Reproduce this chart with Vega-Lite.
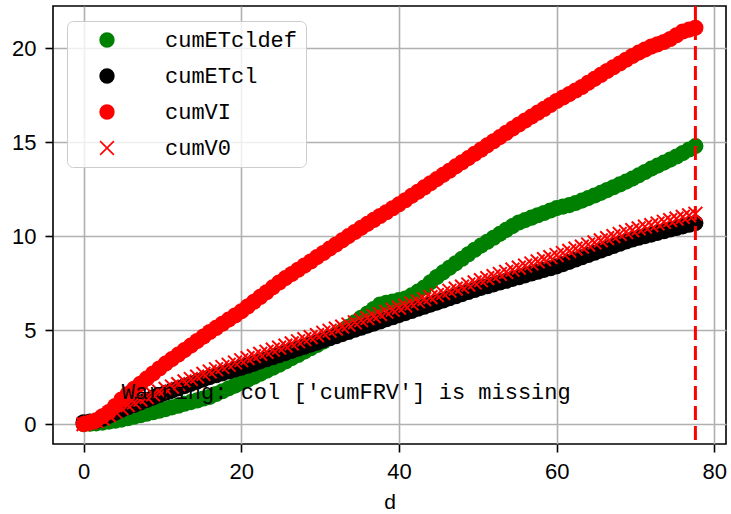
{
 "$schema": "https://vega.github.io/schema/vega-lite/v6.json",
 "width": 673, "height": 438,
 "autosize": {"type": "none"},
 "padding": {"left": 53, "top": 6, "right": 5, "bottom": 70},
 "background": "white",
 "config": {
  "view": {"stroke": "black", "strokeWidth": 1.6},
  "axis": {"domain": false, "grid": true, "gridColor": "#b0b0b0", "gridWidth": 1.6, "tickColor": "black", "tickWidth": 1.6, "tickSize": 8, "labelFont": "Liberation Sans", "labelFontSize": 22, "labelColor": "black", "labelPadding": 9, "titleFont": "Liberation Sans", "titleFontSize": 21, "titleColor": "black", "titleFontWeight": "normal", "titlePadding": 9},
  "legend": {"orient": "none", "legendX": 14, "legendY": 15, "fillColor": "rgba(255,255,255,0.8)", "strokeColor": "#cccccc", "strokeWidth": 1, "cornerRadius": 6, "padding": 8, "symbolOffset": 21, "labelOffset": 47, "rowPadding": 14, "labelFont": "Liberation Mono", "labelFontSize": 22, "labelColor": "black", "symbolSize": 190, "symbolStrokeWidth": 1.6}
 },
 "datasets": {
  "series": [
   {"d":0,"cumETcldef":0,"cumETcl":0.10,"cumVI":0,"cumV0":0},
   {"d":0.8,"cumETcldef":0.02,"cumETcl":0.14,"cumVI":0.10,"cumV0":0.08},
   {"d":1.6,"cumETcldef":0.04,"cumETcl":0.18,"cumVI":0.20,"cumV0":0.16},
   {"d":2.4,"cumETcldef":0.08,"cumETcl":0.28,"cumVI":0.42,"cumV0":0.29},
   {"d":3.2,"cumETcldef":0.13,"cumETcl":0.44,"cumVI":0.64,"cumV0":0.48},
   {"d":4.0,"cumETcldef":0.18,"cumETcl":0.60,"cumVI":0.96,"cumV0":0.67},
   {"d":4.8,"cumETcldef":0.24,"cumETcl":0.76,"cumVI":1.31,"cumV0":0.85},
   {"d":5.6,"cumETcldef":0.31,"cumETcl":0.90,"cumVI":1.60,"cumV0":1.01},
   {"d":6.4,"cumETcldef":0.39,"cumETcl":1.02,"cumVI":1.88,"cumV0":1.15},
   {"d":7.2,"cumETcldef":0.47,"cumETcl":1.15,"cumVI":2.15,"cumV0":1.30},
   {"d":8.0,"cumETcldef":0.55,"cumETcl":1.28,"cumVI":2.42,"cumV0":1.44},
   {"d":8.8,"cumETcldef":0.63,"cumETcl":1.41,"cumVI":2.69,"cumV0":1.58},
   {"d":9.6,"cumETcldef":0.71,"cumETcl":1.54,"cumVI":2.96,"cumV0":1.73},
   {"d":10.4,"cumETcldef":0.80,"cumETcl":1.66,"cumVI":3.22,"cumV0":1.87},
   {"d":11.2,"cumETcldef":0.89,"cumETcl":1.78,"cumVI":3.46,"cumV0":2.00},
   {"d":12.0,"cumETcldef":0.98,"cumETcl":1.90,"cumVI":3.70,"cumV0":2.13},
   {"d":12.8,"cumETcldef":1.08,"cumETcl":2.02,"cumVI":3.94,"cumV0":2.27},
   {"d":13.6,"cumETcldef":1.17,"cumETcl":2.14,"cumVI":4.18,"cumV0":2.40},
   {"d":14.4,"cumETcldef":1.26,"cumETcl":2.26,"cumVI":4.42,"cumV0":2.53},
   {"d":15.2,"cumETcldef":1.36,"cumETcl":2.38,"cumVI":4.66,"cumV0":2.67},
   {"d":16.0,"cumETcldef":1.45,"cumETcl":2.50,"cumVI":4.90,"cumV0":2.80},
   {"d":16.8,"cumETcldef":1.60,"cumETcl":2.60,"cumVI":5.12,"cumV0":2.92},
   {"d":17.6,"cumETcldef":1.75,"cumETcl":2.70,"cumVI":5.34,"cumV0":3.04},
   {"d":18.4,"cumETcldef":1.90,"cumETcl":2.80,"cumVI":5.56,"cumV0":3.16},
   {"d":19.2,"cumETcldef":2.05,"cumETcl":2.90,"cumVI":5.78,"cumV0":3.28},
   {"d":20.0,"cumETcldef":2.20,"cumETcl":3.00,"cumVI":6.00,"cumV0":3.40},
   {"d":20.8,"cumETcldef":2.36,"cumETcl":3.11,"cumVI":6.26,"cumV0":3.51},
   {"d":21.6,"cumETcldef":2.52,"cumETcl":3.22,"cumVI":6.51,"cumV0":3.62},
   {"d":22.4,"cumETcldef":2.68,"cumETcl":3.34,"cumVI":6.77,"cumV0":3.74},
   {"d":23.2,"cumETcldef":2.84,"cumETcl":3.45,"cumVI":7.02,"cumV0":3.85},
   {"d":24.0,"cumETcldef":3.00,"cumETcl":3.56,"cumVI":7.28,"cumV0":3.96},
   {"d":24.8,"cumETcldef":3.16,"cumETcl":3.67,"cumVI":7.54,"cumV0":4.07},
   {"d":25.6,"cumETcldef":3.33,"cumETcl":3.78,"cumVI":7.77,"cumV0":4.18},
   {"d":26.4,"cumETcldef":3.51,"cumETcl":3.90,"cumVI":7.99,"cumV0":4.30},
   {"d":27.2,"cumETcldef":3.68,"cumETcl":4.01,"cumVI":8.22,"cumV0":4.41},
   {"d":28.0,"cumETcldef":3.86,"cumETcl":4.12,"cumVI":8.44,"cumV0":4.52},
   {"d":28.8,"cumETcldef":4.04,"cumETcl":4.23,"cumVI":8.66,"cumV0":4.63},
   {"d":29.6,"cumETcldef":4.21,"cumETcl":4.34,"cumVI":8.89,"cumV0":4.74},
   {"d":30.4,"cumETcldef":4.39,"cumETcl":4.46,"cumVI":9.11,"cumV0":4.86},
   {"d":31.2,"cumETcldef":4.58,"cumETcl":4.57,"cumVI":9.34,"cumV0":4.97},
   {"d":32.0,"cumETcldef":4.77,"cumETcl":4.68,"cumVI":9.56,"cumV0":5.08},
   {"d":32.8,"cumETcldef":4.95,"cumETcl":4.79,"cumVI":9.78,"cumV0":5.19},
   {"d":33.6,"cumETcldef":5.18,"cumETcl":4.90,"cumVI":10.01,"cumV0":5.30},
   {"d":34.4,"cumETcldef":5.42,"cumETcl":5.02,"cumVI":10.23,"cumV0":5.42},
   {"d":35.2,"cumETcldef":5.66,"cumETcl":5.13,"cumVI":10.45,"cumV0":5.53},
   {"d":36.0,"cumETcldef":5.89,"cumETcl":5.24,"cumVI":10.66,"cumV0":5.64},
   {"d":36.8,"cumETcldef":6.13,"cumETcl":5.35,"cumVI":10.87,"cumV0":5.75},
   {"d":37.6,"cumETcldef":6.37,"cumETcl":5.46,"cumVI":11.08,"cumV0":5.86},
   {"d":38.4,"cumETcldef":6.46,"cumETcl":5.58,"cumVI":11.28,"cumV0":5.98},
   {"d":39.2,"cumETcldef":6.53,"cumETcl":5.69,"cumVI":11.49,"cumV0":6.09},
   {"d":40.0,"cumETcldef":6.60,"cumETcl":5.80,"cumVI":11.70,"cumV0":6.20},
   {"d":40.8,"cumETcldef":6.68,"cumETcl":5.91,"cumVI":11.92,"cumV0":6.31},
   {"d":41.6,"cumETcldef":6.85,"cumETcl":6.02,"cumVI":12.15,"cumV0":6.42},
   {"d":42.4,"cumETcldef":7.05,"cumETcl":6.14,"cumVI":12.37,"cumV0":6.54},
   {"d":43.2,"cumETcldef":7.27,"cumETcl":6.25,"cumVI":12.60,"cumV0":6.65},
   {"d":44.0,"cumETcldef":7.55,"cumETcl":6.36,"cumVI":12.82,"cumV0":6.76},
   {"d":44.8,"cumETcldef":7.83,"cumETcl":6.47,"cumVI":13.04,"cumV0":6.87},
   {"d":45.6,"cumETcldef":8.08,"cumETcl":6.58,"cumVI":13.27,"cumV0":6.98},
   {"d":46.4,"cumETcldef":8.32,"cumETcl":6.70,"cumVI":13.49,"cumV0":7.10},
   {"d":47.2,"cumETcldef":8.56,"cumETcl":6.81,"cumVI":13.72,"cumV0":7.21},
   {"d":48.0,"cumETcldef":8.80,"cumETcl":6.92,"cumVI":13.94,"cumV0":7.32},
   {"d":48.8,"cumETcldef":9.04,"cumETcl":7.03,"cumVI":14.16,"cumV0":7.43},
   {"d":49.6,"cumETcldef":9.28,"cumETcl":7.14,"cumVI":14.39,"cumV0":7.54},
   {"d":50.4,"cumETcldef":9.50,"cumETcl":7.25,"cumVI":14.61,"cumV0":7.66},
   {"d":51.2,"cumETcldef":9.71,"cumETcl":7.34,"cumVI":14.84,"cumV0":7.77},
   {"d":52.0,"cumETcldef":9.92,"cumETcl":7.44,"cumVI":15.06,"cumV0":7.88},
   {"d":52.8,"cumETcldef":10.13,"cumETcl":7.54,"cumVI":15.28,"cumV0":7.99},
   {"d":53.6,"cumETcldef":10.34,"cumETcl":7.63,"cumVI":15.51,"cumV0":8.10},
   {"d":54.4,"cumETcldef":10.54,"cumETcl":7.73,"cumVI":15.73,"cumV0":8.22},
   {"d":55.2,"cumETcldef":10.73,"cumETcl":7.82,"cumVI":15.95,"cumV0":8.33},
   {"d":56.0,"cumETcldef":10.86,"cumETcl":7.92,"cumVI":16.16,"cumV0":8.44},
   {"d":56.8,"cumETcldef":10.99,"cumETcl":8.02,"cumVI":16.37,"cumV0":8.55},
   {"d":57.6,"cumETcldef":11.12,"cumETcl":8.11,"cumVI":16.58,"cumV0":8.66},
   {"d":58.4,"cumETcldef":11.24,"cumETcl":8.21,"cumVI":16.78,"cumV0":8.78},
   {"d":59.2,"cumETcldef":11.37,"cumETcl":8.30,"cumVI":16.99,"cumV0":8.89},
   {"d":60.0,"cumETcldef":11.50,"cumETcl":8.40,"cumVI":17.20,"cumV0":9.00},
   {"d":60.8,"cumETcldef":11.58,"cumETcl":8.52,"cumVI":17.39,"cumV0":9.11},
   {"d":61.6,"cumETcldef":11.66,"cumETcl":8.64,"cumVI":17.57,"cumV0":9.22},
   {"d":62.4,"cumETcldef":11.77,"cumETcl":8.76,"cumVI":17.76,"cumV0":9.34},
   {"d":63.2,"cumETcldef":11.90,"cumETcl":8.88,"cumVI":17.95,"cumV0":9.45},
   {"d":64.0,"cumETcldef":12.03,"cumETcl":9.00,"cumVI":18.17,"cumV0":9.56},
   {"d":64.8,"cumETcldef":12.17,"cumETcl":9.12,"cumVI":18.38,"cumV0":9.67},
   {"d":65.6,"cumETcldef":12.31,"cumETcl":9.24,"cumVI":18.59,"cumV0":9.78},
   {"d":66.4,"cumETcldef":12.46,"cumETcl":9.36,"cumVI":18.80,"cumV0":9.90},
   {"d":67.2,"cumETcldef":12.61,"cumETcl":9.48,"cumVI":19.00,"cumV0":10.01},
   {"d":68.0,"cumETcldef":12.76,"cumETcl":9.60,"cumVI":19.20,"cumV0":10.12},
   {"d":68.8,"cumETcldef":12.91,"cumETcl":9.72,"cumVI":19.40,"cumV0":10.23},
   {"d":69.6,"cumETcldef":13.07,"cumETcl":9.83,"cumVI":19.60,"cumV0":10.33},
   {"d":70.4,"cumETcldef":13.24,"cumETcl":9.92,"cumVI":19.78,"cumV0":10.42},
   {"d":71.2,"cumETcldef":13.42,"cumETcl":10.01,"cumVI":19.94,"cumV0":10.51},
   {"d":72.0,"cumETcldef":13.60,"cumETcl":10.09,"cumVI":20.10,"cumV0":10.59},
   {"d":72.8,"cumETcldef":13.76,"cumETcl":10.18,"cumVI":20.22,"cumV0":10.68},
   {"d":73.6,"cumETcldef":13.92,"cumETcl":10.27,"cumVI":20.34,"cumV0":10.77},
   {"d":74.4,"cumETcldef":14.08,"cumETcl":10.36,"cumVI":20.50,"cumV0":10.86},
   {"d":75.2,"cumETcldef":14.25,"cumETcl":10.44,"cumVI":20.70,"cumV0":10.94},
   {"d":76.0,"cumETcldef":14.43,"cumETcl":10.53,"cumVI":20.90,"cumV0":11.03},
   {"d":76.8,"cumETcldef":14.62,"cumETcl":10.61,"cumVI":21.00,"cumV0":11.11},
   {"d":77.6,"cumETcldef":14.80,"cumETcl":10.70,"cumVI":21.10,"cumV0":11.20}
  ],
  "vline": [{"d": 77.6}],
  "note": [{"label": "Warning: col ['cumFRV'] is missing"}]
 },
 "layer": [
  {
   "data": {"name": "series"},
   "mark": {"type": "point", "filled": true, "size": 260, "opacity": 1, "strokeWidth": 0},
   "encoding": {
    "x": {"field": "d", "type": "quantitative", "scale": {"domain": [-3.88, 81.48], "nice": false, "zero": false}, "axis": {"values": [0, 20, 40, 60, 80], "title": "d"}},
    "y": {"field": "cumETcldef", "type": "quantitative", "scale": {"domain": [-1.06, 22.26], "nice": false, "zero": false}, "axis": {"values": [0, 5, 10, 15, 20], "title": null}},
    "color": {"datum": "cumETcldef", "type": "nominal", "scale": {"domain": ["cumETcldef", "cumETcl", "cumVI", "cumV0"], "range": ["#008000", "#000000", "#ff0000", "#ff0000"]}, "legend": {"title": null, "encode": {"symbols": {"update": {"fill": {"scale": "color", "field": "value"}, "stroke": {"scale": "color", "field": "value"}, "strokeWidth": {"value": 1.6}, "opacity": {"value": 1}}}}}},
    "shape": {"datum": "cumETcldef", "type": "nominal", "scale": {"domain": ["cumETcldef", "cumETcl", "cumVI", "cumV0"], "range": ["circle", "circle", "circle", "M-1,-1L1,1M-1,1L1,-1"]}, "legend": {"title": null}}
   }
  },
  {
   "data": {"name": "series"},
   "mark": {"type": "point", "filled": true, "size": 260, "opacity": 1, "strokeWidth": 0},
   "encoding": {
    "x": {"field": "d", "type": "quantitative"},
    "y": {"field": "cumETcl", "type": "quantitative"},
    "color": {"datum": "cumETcl", "type": "nominal"},
    "shape": {"datum": "cumETcl", "type": "nominal"}
   }
  },
  {
   "data": {"name": "series"},
   "mark": {"type": "point", "filled": true, "size": 260, "opacity": 1, "strokeWidth": 0},
   "encoding": {
    "x": {"field": "d", "type": "quantitative"},
    "y": {"field": "cumVI", "type": "quantitative"},
    "color": {"datum": "cumVI", "type": "nominal"},
    "shape": {"datum": "cumVI", "type": "nominal"}
   }
  },
  {
   "data": {"name": "series"},
   "mark": {"type": "point", "filled": false, "size": 190, "opacity": 1, "strokeWidth": 2},
   "encoding": {
    "x": {"field": "d", "type": "quantitative"},
    "y": {"field": "cumV0", "type": "quantitative"},
    "color": {"datum": "cumV0", "type": "nominal"},
    "shape": {"datum": "cumV0", "type": "nominal"}
   }
  },
  {
   "data": {"name": "vline"},
   "mark": {"type": "rule", "color": "#ff0000", "strokeWidth": 3, "strokeDash": [14, 6]},
   "encoding": {"x": {"field": "d", "type": "quantitative"}}
  },
  {
   "data": {"name": "note"},
   "mark": {"type": "text", "align": "left", "baseline": "alphabetic", "font": "Liberation Mono", "fontSize": 22, "color": "black"},
   "encoding": {"text": {"field": "label"}, "x": {"datum": 4.85}, "y": {"datum": 1.35}}
  }
 ]
}
